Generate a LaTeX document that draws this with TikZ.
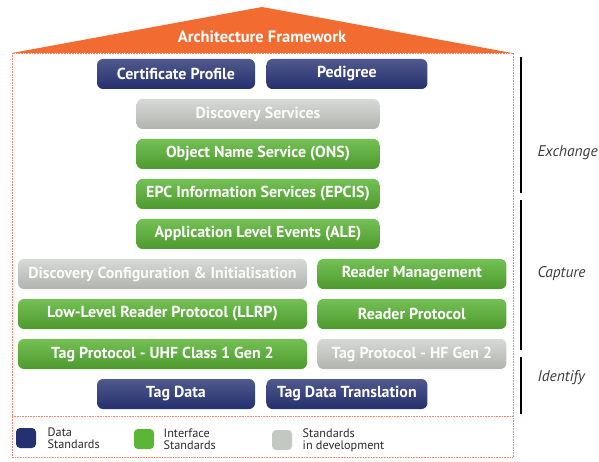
\documentclass[tikz,border=0pt]{standalone}
\usepackage{fontspec}
\setmainfont{PT Sans}
\usetikzlibrary{positioning}

\definecolor{datablue}{HTML}{24306F}
\definecolor{ifgreen}{HTML}{5BB536}
\definecolor{devgrey}{HTML}{C4C8C2}
\definecolor{roof}{HTML}{F26B30}
\definecolor{frame}{HTML}{F0876A}
\definecolor{sidetext}{HTML}{3C3C3C}
\definecolor{keyink}{HTML}{2A2A2A}

\tikzset{
  stdbox/.style={rounded corners=6bp, minimum height=30bp, inner sep=0pt,
                 text=white, font=\bfseries\fontsize{16}{18}\selectfont},
  datastd/.style={stdbox, top color=datablue!80!white, bottom color=datablue},
  ifstd/.style={stdbox, top color=ifgreen!85!white, bottom color=ifgreen!85!black},
  devstd/.style={stdbox, top color=devgrey!70!white, bottom color=devgrey!90!black, text=white!92!devgrey},
  layer/.style={font=\itshape\fontsize{15.5}{17}\selectfont, text=sidetext, anchor=west},
  keybox/.style={rounded corners=4bp, minimum width=20bp, minimum height=20bp, inner sep=0pt},
  keytext/.style={font=\fontsize{12.3}{12}\selectfont, text=keyink, align=left, anchor=west}
}

\begin{document}
\begin{tikzpicture}[x=1bp, y=-1bp]
    \useasboundingbox (0,0) rectangle (599,462);

    % roof and frame
    \fill[roof] (12,53) -- (262,7) -- (512,53) -- cycle;
    \node[text=white, font=\bfseries\fontsize{16.5}{18}\selectfont] (arch) at (262,37) {Architecture Framework};
    \draw[frame, densely dotted, line width=0.6bp] (12,53) rectangle (513,457);
    \draw[frame, densely dotted, line width=0.6bp] (12,416) -- (513,416);

    % exchange
    \node[datastd, minimum width=158bp] (cert) at (176,74) {Certificate Profile};
    \node[datastd, minimum width=161bp, right=11bp of cert] (pedigree) {Pedigree};
    \node[devstd, minimum width=243bp] (disc) at (258,114) {Discovery Services};
    \node[ifstd, minimum width=243bp] (ons) at (258,154) {Object Name Service (ONS)};
    \node[ifstd, minimum width=243bp] (epcis) at (258,194) {EPC Information Services (EPCIS)};

    % capture
    \node[ifstd, minimum width=243bp] (ale) at (258,234) {Application Level Events (ALE)};
    \node[devstd, minimum width=289bp] (dci) at (162.5,274) {Discovery Configuration \& Initialisation};
    \node[ifstd, minimum width=189bp, right=10bp of dci] (rm) {Reader Management};
    \node[ifstd, minimum width=289bp] (llrp) at (162.5,314) {Low-Level Reader Protocol (LLRP)};
    \node[ifstd, minimum width=189bp, right=10bp of llrp] (rp) {Reader Protocol};

    % identify
    \node[ifstd, minimum width=289bp] (uhf) at (162.5,354) {Tag Protocol - UHF Class 1 Gen 2};
    \node[devstd, minimum width=189bp, right=10bp of uhf] (hf) {Tag Protocol - HF Gen 2};
    \node[datastd, minimum width=158bp] (tagdata) at (176,394) {Tag Data};
    \node[datastd, minimum width=161bp, right=11bp of tagdata] (tdt) {Tag Data Translation};

    % layer brackets
    \coordinate (ex1) at (521,57);  \coordinate (ex2) at (521,193);
    \coordinate (ca1) at (521,200); \coordinate (ca2) at (521,350);
    \coordinate (id1) at (521,357); \coordinate (id2) at (521,414);
    \draw[line width=1.3bp] (ex1) -- (ex2) (ca1) -- (ca2) (id1) -- (id2);
    \node[layer] (exchange) at (534,153) {Exchange};
    \node[layer] (capture) at (534,274) {Capture};
    \node[layer] (identify) at (534,378) {Identify};

    % legend
    \node[keybox, fill=datablue] (kdata) at (26,438) {};
    \node[keytext, right=8bp of kdata] (tdata) {Data\\Standards};
    \node[keybox, fill=ifgreen] (kif) at (144,439) {};
    \node[keytext, right=6bp of kif] (tif) {Interface\\Standards};
    \node[keybox, fill=devgrey] (kdev) at (282,440) {};
    \node[keytext, right=7bp of kdev] (tdev) {Standards\\in development};
\end{tikzpicture}
\end{document}
